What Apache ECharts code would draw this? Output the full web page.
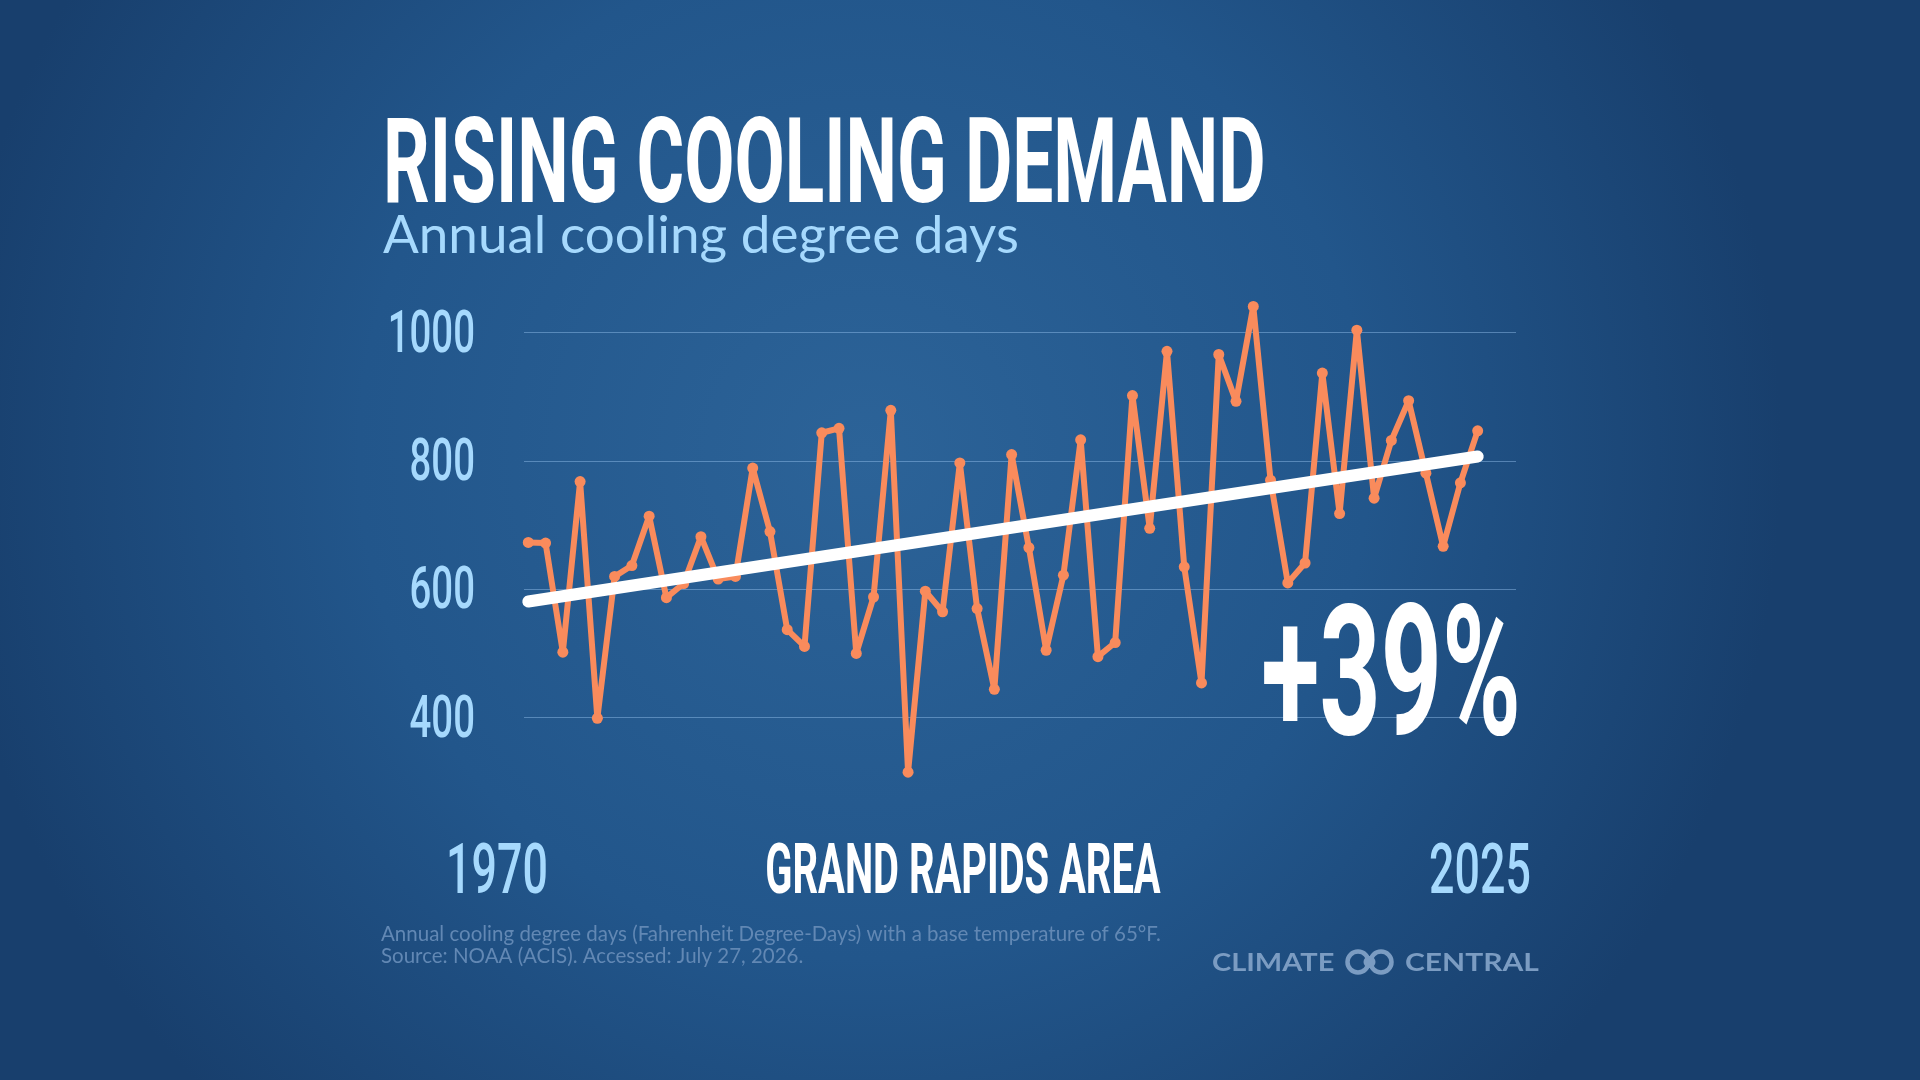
<!DOCTYPE html>
<html>
<head>
<meta charset="utf-8">
<title>Rising Cooling Demand</title>
<script src="https://cdn.jsdelivr.net/npm/echarts@6/dist/echarts.min.js"></script>
<style>
  html, body { margin: 0; padding: 0; width: 1920px; height: 1080px; overflow: hidden; background: #1c4a7c; }
  #chart { width: 1920px; height: 1080px; }
</style>
</head>
<body>
<div id="chart"></div>
<script>
// data
var years = [1970, 1971, 1972, 1973, 1974, 1975, 1976, 1977, 1978, 1979,
             1980, 1981, 1982, 1983, 1984, 1985, 1986, 1987, 1988, 1989,
             1990, 1991, 1992, 1993, 1994, 1995, 1996, 1997, 1998, 1999,
             2000, 2001, 2002, 2003, 2004, 2005, 2006, 2007, 2008, 2009,
             2010, 2011, 2012, 2013, 2014, 2015, 2016, 2017, 2018, 2019,
             2020, 2021, 2022, 2023, 2024, 2025];
var cdd = [673, 672, 502, 768, 399, 620, 637, 714, 587, 609,
           682, 616, 620, 789, 690, 537, 511, 844, 851, 500,
           588, 879, 315, 597, 565, 797, 570, 444, 810, 665,
           505, 622, 833, 495, 517, 902, 695, 971, 635, 454,
           966, 893, 1041, 770, 610, 641, 937, 718, 1004, 742,
           832, 894, 781, 667, 766, 847];
var trendYears = [1970, 2025];
var trendValues = [581, 807];
var yTicks = [400, 600, 800, 1000];
var changeLabel = '+39%';

var chart = echarts.init(document.getElementById('chart'));

var lineData = years.map(function (y, i) { return [y, cdd[i]]; });
var trendData = trendYears.map(function (y, i) { return [y, trendValues[i]]; });

var option = {
    backgroundColor: {
        type: 'radial', x: 0.45, y: 0.42, r: 0.85,
        colorStops: [
            { offset: 0, color: '#2c6398' },
            { offset: 0.55, color: '#22568b' },
            { offset: 1, color: '#183f6d' }
        ]
    },
    animation: false,
    grid: { left: 524, right: 404, top: 332.7, bottom: 362.4 },
    xAxis: {
        type: 'value',
        min: 1969.75,
        max: 2027.22,
        show: false,
        splitLine: { show: false }
    },
    yAxis: {
        type: 'value',
        min: 400,
        max: 1000,
        interval: 200,
        axisLine: { show: false },
        axisTick: { show: false },
        axisLabel: { show: false },
        splitLine: { lineStyle: { color: 'rgba(150,195,240,0.45)', width: 1.2 } }
    },
    series: [
        {
            name: 'Cooling degree days',
            type: 'line',
            data: lineData,
            clip: false,
            symbol: 'circle',
            symbolSize: 11,
            itemStyle: { color: '#f98b5c' },
            lineStyle: { color: '#f98b5c', width: 6 },
            z: 2
        },
        {
            name: 'Trend',
            type: 'line',
            data: trendData,
            clip: false,
            symbol: 'none',
            lineStyle: { color: '#ffffff', width: 12, cap: 'round' },
            z: 3
        }
    ]
};
chart.setOption(option);

// condensed headline face: Roboto squeezed horizontally
function condensed(text, x, y, size, color, align, sx, weight) {
    return {
        type: 'text', x: x, y: y, scaleX: sx, z: 10,
        style: {
            text: text, fontSize: size, fontFamily: 'Roboto',
            fontWeight: weight || 'bold', fill: color,
            align: align, verticalAlign: 'middle'
        }
    };
}

var labelBlue = '#a6d9fd';
var graphics = [];

graphics.push(condensed('RISING COOLING DEMAND', 383, 172, 118, '#ffffff', 'left', 0.618));
graphics.push({
    type: 'text', x: 383, y: 236, z: 10,
    style: { text: 'Annual cooling degree days', fontSize: 53, fontFamily: 'Lato', fill: labelBlue, verticalAlign: 'middle' }
});

yTicks.forEach(function (t) {
    var py = chart.convertToPixel({ yAxisIndex: 0 }, t);
    graphics.push(condensed(String(t), 475, py + 4, 60, labelBlue, 'right', 0.64, 500));
});

graphics.push(condensed(changeLabel, 1521, 689, 181, '#ffffff', 'right', 0.59));
graphics.push(condensed(String(years[0]), 497, 875, 70, labelBlue, 'center', 0.64, 500));
graphics.push(condensed(String(years[years.length - 1]), 1480, 875, 70, labelBlue, 'center', 0.64, 500));
graphics.push(condensed('GRAND RAPIDS AREA', 963, 875, 70, '#ffffff', 'center', 0.57));

var noteStyle = { fontSize: 20.5, fontFamily: 'Lato', fill: '#6288b4', verticalAlign: 'middle' };
graphics.push({
    type: 'text', x: 381, y: 934, z: 10,
    style: Object.assign({ text: 'Annual cooling degree days (Fahrenheit Degree-Days) with a base temperature of 65°F.' }, noteStyle)
});
graphics.push({
    type: 'text', x: 381, y: 956, z: 10,
    style: Object.assign({ text: 'Source: NOAA (ACIS). Accessed: July 27, 2026.' }, noteStyle)
});

// logo
var logoGrey = '#7b9cc2';
graphics.push({
    type: 'text', x: 1212, y: 963, scaleX: 1.16, z: 10,
    style: { text: 'CLIMATE', fontSize: 25, fontFamily: 'Lato', fontWeight: 'bold', fill: logoGrey, verticalAlign: 'middle' }
});
graphics.push({ type: 'circle', shape: { cx: 1358, cy: 962, r: 10.5 }, style: { fill: 'none', stroke: logoGrey, lineWidth: 4.5 }, z: 10 });
graphics.push({ type: 'circle', shape: { cx: 1381, cy: 962, r: 10.5 }, style: { fill: 'none', stroke: logoGrey, lineWidth: 4.5 }, z: 10 });
graphics.push({ type: 'circle', shape: { cx: 1369.5, cy: 962, r: 6 }, style: { fill: logoGrey }, z: 10 });
graphics.push({
    type: 'text', x: 1405, y: 963, scaleX: 1.2, z: 10,
    style: { text: 'CENTRAL', fontSize: 25, fontFamily: 'Lato', fontWeight: 'bold', fill: logoGrey, verticalAlign: 'middle' }
});

chart.setOption({ graphic: graphics });
</script>
</body>
</html>
